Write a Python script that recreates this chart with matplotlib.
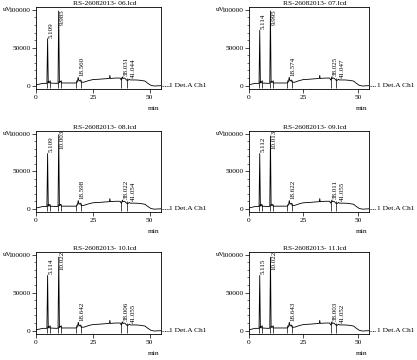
import numpy as np
import matplotlib.pyplot as plt

plt.rcParams['font.family'] = ['Liberation Serif', 'DejaVu Serif']

base_t = [0, 1.5, 3, 4.8, 5.4, 5.8, 6.1, 9.0, 9.7, 10.3, 10.8, 11.2, 17.3, 17.6,
          18.2, 18.9, 19.5, 19.9, 21, 23, 25, 28, 30, 32.3, 32.5, 32.7, 35, 37,
          37.5, 37.8, 38.3, 39, 40, 40.5, 41.5, 44, 46, 48, 49, 50.5, 52, 55]
base_v = [1000, 2000, 3000, 3000, 3500, 6000, 3500, 3000, 3200, 4000, 6000, 3500,
          3500, 3500, 5000, 6000, 7500, 4500, 4500, 6500, 8000, 8500, 9000, 9500,
          13500, 9500, 10000, 10000, 7500, 9000, 9500, 10000, 7000, 7000, 7500,
          7500, 7000, 6000, 3500, 500, -500, 0]

# integration marks (start / end of peaks)
mark_t = [4.8, 6.1, 9.7, 11.2, 17.6, 19.9, 37.5, 40.0]

files = ['06', '07', '08', '09', '10', '11']
peak_rt = [[5.109, 9.985, 18.560, 38.031, 41.044],
           [5.114, 9.995, 18.574, 38.025, 41.047],
           [5.109, 10.003, 18.598, 38.022, 41.054],
           [5.112, 10.013, 18.622, 38.011, 41.055],
           [5.114, 10.022, 18.642, 38.006, 41.055],
           [5.115, 10.022, 18.643, 38.003, 41.052]]
peak_h = [[62000, 98500, 11000, 11500, 8500],
          [73000, 98500, 11000, 11500, 8500],
          [73500, 98500, 11000, 11500, 8500],
          [73500, 97000, 11000, 11500, 8500],
          [72500, 96500, 11000, 11500, 8500],
          [72500, 96500, 11000, 11500, 8500]]

fig = plt.figure(figsize=(4.17, 3.6), dpi=100)

pos = [(0.0863, 0.752, 0.2998, 0.228), (0.596, 0.752, 0.289, 0.228),
       (0.0863, 0.410, 0.2998, 0.226), (0.596, 0.410, 0.289, 0.226),
       (0.0863, 0.0714, 0.2998, 0.229), (0.596, 0.0714, 0.289, 0.229)]

fs = 5.3
for i in range(6):
    ax = fig.add_axes(pos[i])
    t = np.array(base_t + peak_rt[i])
    v = np.array(base_v + peak_h[i])
    o = np.argsort(t)
    t, v = t[o], v[o]
    ax.plot(t, v, color='k', lw=0.6)

    # integration marks
    mv = np.interp(mark_t, base_t, base_v)
    ax.vlines(mark_t, -3500, mv + 3500, color='k', lw=0.5)

    # peak labels
    for rt, h in zip(peak_rt[i], peak_h[i]):
        ax.text(rt + 0.5, min(h + 1500, 80000), '%.3f' % rt, rotation=90,
                ha='left', va='bottom', fontsize=5)

    ax.set_xlim(0, 55)
    ax.set_ylim(-4800, 103500)
    ax.set_xticks([0, 25, 50])
    ax.set_yticks([0, 50000, 100000])
    ax.set_yticks(np.arange(0, 100001, 10000), minor=True)
    ax.tick_params(which='major', direction='out', length=3, width=0.5,
                   pad=0.8, labelsize=fs)
    ax.tick_params(which='minor', direction='out', length=1.5, width=0.4)
    for s in ax.spines.values():
        s.set_linewidth(0.6)

    ax.set_title('RS-26082013- %s.lcd' % files[i], fontsize=fs, pad=1.5, x=0.55)
    ax.annotate('uV', xy=(0, 100000), xycoords=('axes fraction', 'data'),
                xytext=(-17, 0), textcoords='offset points',
                ha='right', va='center', fontsize=fs)
    ax.text(0.99, -0.235, 'min', transform=ax.transAxes, ha='right',
            va='center', fontsize=fs)

    # detector label
    ye = v[-1]
    ax.plot([55, 58.3], [ye, ye], color='k', lw=0.5, ls=(0, (1.5, 1)),
            clip_on=False)
    ax.text(58.6, ye, '1 Det.A Ch1', ha='left', va='center', fontsize=fs)

fig.savefig('out.png', dpi=100)
